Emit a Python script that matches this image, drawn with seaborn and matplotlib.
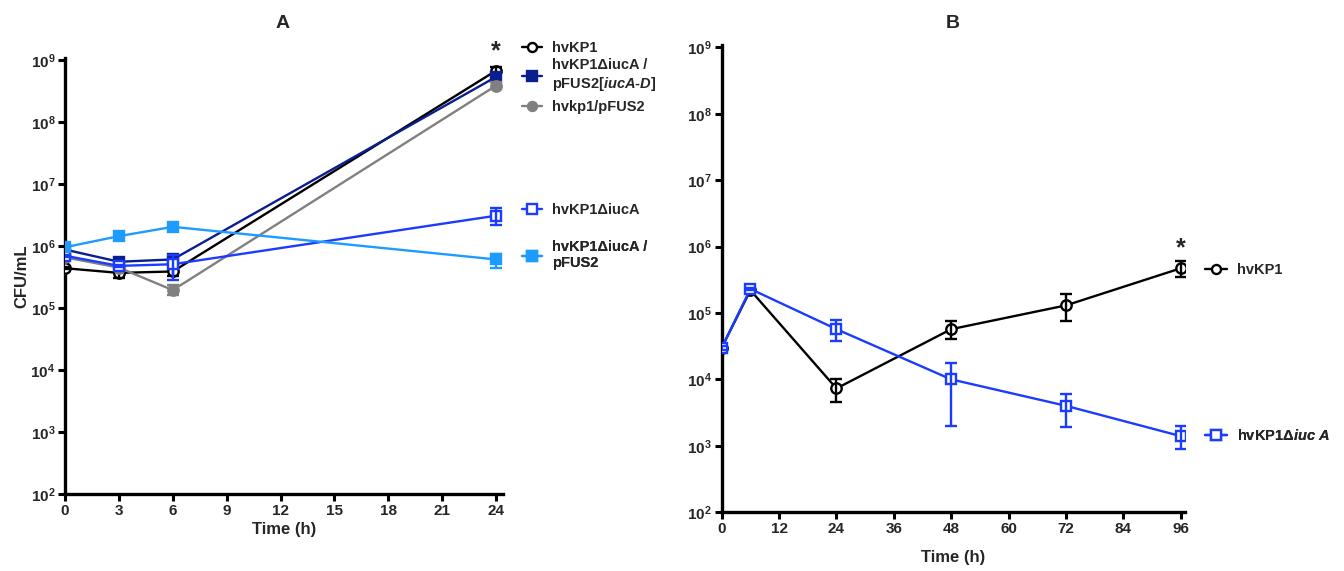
import numpy as np
import pandas as pd
import matplotlib
matplotlib.use("Agg")
import matplotlib.pyplot as plt
import seaborn as sns
from matplotlib.ticker import FixedLocator, FuncFormatter, NullLocator

sns.set_theme(style="ticks")
plt.rcParams["font.family"] = ["Liberation Sans", "DejaVu Sans"]
plt.rcParams["font.weight"] = "bold"
plt.rcParams["mathtext.fontset"] = "custom"
plt.rcParams["mathtext.rm"] = "Liberation Sans:bold"
plt.rcParams["mathtext.bf"] = "Liberation Sans:bold"
plt.rcParams["mathtext.it"] = "Liberation Sans:bold:italic"

# ---------------- Panel A: growth over 24 h ----------------
time_a = [0, 3, 6, 24]
a_names = [
    "hvKP1",
    "hvKP1\u0394iucA /\npFUS2[$\\mathit{iucA}$-$\\mathit{D}$]",
    "hvkp1/pFUS2",
    "hvKP1\u0394iucA",
    "hvKP1\u0394iucA /\npFUS2",
]
a_mean = [
    [4.4e5, 3.7e5, 3.9e5, 6.8e8],
    [8.8e5, 5.6e5, 6.1e5, 5.4e8],
    [6.6e5, 4.5e5, 1.95e5, 3.9e8],
    [7.0e5, 4.8e5, 5.1e5, 3.1e6],
    [9.6e5, 1.45e6, 2.05e6, 6.1e5],
]
a_lo = [
    [4.2e5, 3.1e5, 3.3e5, 5.9e8],
    [8.5e5, 5.4e5, 5.6e5, 5.1e8],
    [6.4e5, 4.3e5, 1.65e5, 3.4e8],
    [6.8e5, 4.6e5, 2.8e5, 2.2e6],
    [9.3e5, 1.40e6, 1.95e6, 4.4e5],
]
a_hi = [
    [4.6e5, 4.1e5, 4.6e5, 7.8e8],
    [9.1e5, 5.9e5, 7.0e5, 5.8e8],
    [6.8e5, 4.7e5, 2.35e5, 4.4e8],
    [7.2e5, 5.0e5, 7.2e5, 4.2e6],
    [9.9e5, 1.50e6, 2.15e6, 7.6e5],
]
a_colors = ["#000000", "#0a1f8f", "#808080", "#1a3cff", "#1e9bff"]
a_markers = ["o", "s", "o", "s", "s"]
a_filled = [False, True, True, False, True]
# vertical centre of each legend entry, in axes fraction
a_legend_y = [1.024, 0.961, 0.888, 0.651, 0.548]

# ---------------- Panel B: growth over 96 h ----------------
time_b = [0, 6, 24, 48, 72, 96]
b_names = ["hvKP1", "hvKP1\u0394$\\mathit{iuc\\ A}$"]
b_mean = [
    [3.0e4, 2.2e5, 7.3e3, 5.7e4, 1.3e5, 4.7e5],
    [3.0e4, 2.3e5, 5.7e4, 1.0e4, 4.0e3, 1.4e3],
]
b_lo = [
    [2.8e4, 2.1e5, 4.6e3, 4.0e4, 7.6e4, 3.5e5],
    [2.8e4, 2.2e5, 3.8e4, 2.0e3, 1.9e3, 9.0e2],
]
b_hi = [
    [3.2e4, 2.3e5, 1.0e4, 7.6e4, 1.9e5, 6.0e5],
    [3.2e4, 2.4e5, 7.8e4, 1.75e4, 6.0e3, 2.0e3],
]
b_colors = ["#000000", "#1a3cff"]
b_markers = ["o", "s"]
b_filled = [False, False]
b_legend_y = [0.518, 0.165]

fig = plt.figure(figsize=(13.44, 5.71), dpi=100)
ax_a = fig.add_axes([0.0484, 0.135, 0.326, 0.763])
ax_b = fig.add_axes([0.537, 0.103, 0.345, 0.818])


def draw_panel(ax, times, names, means, los, his, colors, markers, filled):
    frames = []
    for n, m in zip(names, means):
        frames.append(pd.DataFrame({"Time": times, "CFU": m, "strain": n}))
    df = pd.concat(frames, ignore_index=True)
    handles = []
    for i, n in enumerate(names):
        sub = df[df["strain"] == n]
        c = colors[i]
        fc = c if filled[i] else "white"
        sns.lineplot(data=sub, x="Time", y="CFU", ax=ax, color=c, lw=1.7,
                     marker=markers[i], markersize=7.5, markerfacecolor=fc,
                     markeredgecolor=c, markeredgewidth=1.7, legend=False,
                     zorder=3 + i)
        m = np.array(means[i])
        yerr = np.vstack([m - np.array(los[i]), np.array(his[i]) - m])
        ax.errorbar(times, m, yerr=yerr, fmt="none", ecolor=c, elinewidth=1.7,
                    capsize=4.5, capthick=1.7, zorder=3 + i)
        h, = ax.plot([], [], color=c, lw=1.7, marker=markers[i], markersize=6.5,
                     markerfacecolor=fc, markeredgecolor=c, markeredgewidth=1.7)
        handles.append(h)
    ax.set_yscale("log")
    ax.set_ylim(1e2, 1e9 * 1.08)
    ax.yaxis.set_major_locator(FixedLocator([10.0 ** k for k in range(2, 10)]))
    ax.yaxis.set_minor_locator(NullLocator())
    ax.yaxis.set_major_formatter(
        FuncFormatter(lambda v, p: r"$\mathbf{10^{%d}}$" % round(np.log10(v))))
    for s in ["top", "right"]:
        ax.spines[s].set_visible(False)
    for s in ["left", "bottom"]:
        ax.spines[s].set_linewidth(2.4)
        ax.spines[s].set_color("black")
    ax.tick_params(axis="both", which="major", length=5, width=2.2,
                   labelsize=11, color="black", pad=2)
    ax.set_ylabel("")
    return handles


def add_entries(ax, handles, names, ys, x0, hlen, textpad, size):
    for h, n, y in zip(handles, names, ys):
        leg = ax.legend([h], [n], loc="center left", bbox_to_anchor=(x0, y),
                        frameon=False, handlelength=hlen, handletextpad=textpad,
                        borderaxespad=0, borderpad=0, labelspacing=0.2,
                        prop={"weight": "bold", "size": size})
        ax.add_artist(leg)


h_a = draw_panel(ax_a, time_a, a_names, a_mean, a_lo, a_hi, a_colors, a_markers, a_filled)
ax_a.set_xlim(0, 24.4)
ax_a.set_xticks([0, 3, 6, 9, 12, 15, 18, 21, 24])
for lab in ax_a.get_xticklabels():
    lab.set_fontweight("bold")
ax_a.set_xlabel("Time (h)", fontsize=12, fontweight="bold", labelpad=3)
ax_a.set_ylabel("CFU/mL", fontsize=12, fontweight="bold", labelpad=1)
add_entries(ax_a, h_a, a_names, a_legend_y, 1.043, 1.4, 0.68, 10.5)
ax_a.annotate("*", xy=(time_a[-1], a_mean[0][-1]), xytext=(0, 5),
              textcoords="offset points", ha="center", va="bottom",
              fontsize=18, fontweight="bold")

h_b = draw_panel(ax_b, time_b, b_names, b_mean, b_lo, b_hi, b_colors, b_markers, b_filled)
ax_b.set_xlim(0, 97)
ax_b.set_xticks([0, 12, 24, 36, 48, 60, 72, 84, 96])
for lab in ax_b.get_xticklabels():
    lab.set_fontweight("bold")
ax_b.set_xlabel("Time (h)", fontsize=12, fontweight="bold", labelpad=10)
add_entries(ax_b, h_b, b_names, b_legend_y, 1.043, 1.5, 0.7, 10.5)
ax_b.annotate("*", xy=(time_b[-1], b_mean[0][-1]), xytext=(0, 6),
              textcoords="offset points", ha="center", va="bottom",
              fontsize=18, fontweight="bold")

fig.text(283 / 1344, 1 - 23 / 571, "A", ha="center", va="center",
         fontsize=14, fontweight="bold")
fig.text(953 / 1344, 1 - 23 / 571, "B", ha="center", va="center",
         fontsize=14, fontweight="bold")

fig.savefig("out.png", dpi=100)
